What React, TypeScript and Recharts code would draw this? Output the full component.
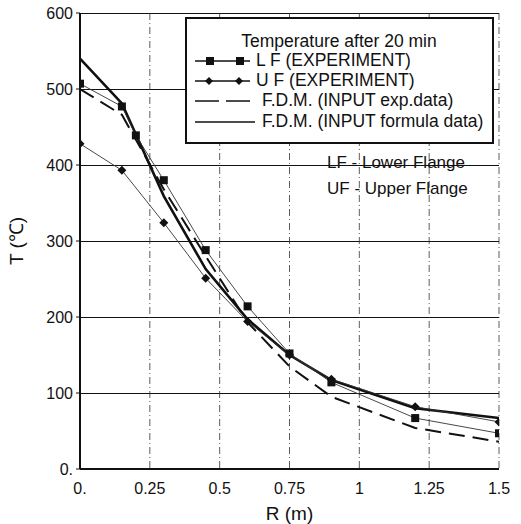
import React from "react"
import { CartesianGrid, Line, LineChart, XAxis, YAxis } from "recharts"

// axis ticks and labels
const xTicks = [0, 0.25, 0.5, 0.75, 1, 1.25, 1.5]
const xTickLabels = ["0.", "0.25", "0.5", "0.75", "1", "1.25", "1.5"]
const yTicks = [0, 100, 200, 300, 400, 500, 600]
const yTickLabels = ["0.", "100", "200", "300", "400", "500", "600"]

// L F (EXPERIMENT)
const lfR = [0, 0.15, 0.2, 0.3, 0.45, 0.6, 0.75, 0.9, 1.2, 1.5]
const lfT = [507, 477, 439, 380, 288, 214, 152, 114, 67, 47]
// U F (EXPERIMENT)
const ufR = [0, 0.15, 0.3, 0.45, 0.6, 0.75, 0.9, 1.2, 1.5]
const ufT = [428, 393, 324, 251, 194, 150, 118, 82, 62]
// F.D.M. curves
const fdmR = [0, 0.15, 0.3, 0.45, 0.6, 0.75, 0.9, 1.2, 1.5]
const fdmExpT = [500, 466, 368, 280, 193, 135, 95, 54, 36]
const fdmFormulaT = [540, 481, 359, 263, 197, 150, 117, 80, 67]

const legendTitle = "Temperature after 20 min"
const legendNames = [
  "L F (EXPERIMENT)",
  "U F (EXPERIMENT)",
  "F.D.M. (INPUT exp.data)",
  "F.D.M. (INPUT formula data)",
]
const notes = ["LF - Lower Flange", "UF - Upper Flange"]

const toRows = (xs: number[], ys: number[]) => xs.map((r, i) => ({ r, t: ys[i] }))

const FONT = "'Liberation Sans', Arial, sans-serif"
const INK = "#111"

const SquareDot = (props: any) => {
  const { cx, cy } = props
  if (cx == null || cy == null) return null
  return <rect x={cx - 4} y={cy - 4} width={8} height={8} fill={INK} />
}

const DiamondDot = (props: any) => {
  const { cx, cy } = props
  if (cx == null || cy == null) return null
  return <polygon points={`${cx},${cy - 4.5} ${cx + 4.5},${cy} ${cx},${cy + 4.5} ${cx - 4.5},${cy}`} fill={INK} />
}

function LegendBox() {
  const rowY = [44, 64, 84, 105]
  const textX = [71, 71, 77, 77]
  return (
    <svg
      width={309}
      height={127}
      style={{ position: "absolute", left: 185, top: 17, fontFamily: FONT }}
    >
      <rect x={1} y={1} width={307} height={125} fill="#fff" stroke={INK} strokeWidth={2} />
      <text x={154} y={25} textAnchor="middle" dominantBaseline="middle" fontSize={17.5} fill={INK}>
        {legendTitle}
      </text>
      {/* L F */}
      <line x1={10} x2={65} y1={rowY[0]} y2={rowY[0]} stroke={INK} strokeWidth={1.3} />
      <rect x={21} y={rowY[0] - 4} width={8} height={8} fill={INK} />
      <rect x={51} y={rowY[0] - 4} width={8} height={8} fill={INK} />
      {/* U F */}
      <line x1={10} x2={65} y1={rowY[1]} y2={rowY[1]} stroke={INK} strokeWidth={1.3} />
      <polygon points={`24,${rowY[1] - 4} 28,${rowY[1]} 24,${rowY[1] + 4} 20,${rowY[1]}`} fill={INK} />
      <polygon points={`54,${rowY[1] - 4} 58,${rowY[1]} 54,${rowY[1] + 4} 50,${rowY[1]}`} fill={INK} />
      {/* dashed */}
      <line x1={10} x2={65} y1={rowY[2]} y2={rowY[2]} stroke={INK} strokeWidth={1.6} strokeDasharray="24 7" />
      {/* solid */}
      <line x1={10} x2={70} y1={rowY[3]} y2={rowY[3]} stroke={INK} strokeWidth={1.6} />
      {legendNames.map((name, i) => (
        <text key={name} x={textX[i]} y={rowY[i]} dominantBaseline="middle" fontSize={17.5} fill={INK}>
          {name}
        </text>
      ))}
    </svg>
  )
}

export default function App() {
  return (
    <div style={{ position: "absolute", left: 0, top: 0, width: 521, height: 524, background: "#fff" }}>
      <LineChart width={521} height={524} margin={{ top: 13, right: 22, bottom: 0, left: 0 }}>
        <CartesianGrid
          vertical={false}
          stroke={INK}
          strokeWidth={1}
          horizontalValues={yTicks}
          shapeRendering="crispEdges"
        />
        <CartesianGrid
          horizontal={false}
          stroke="#333"
          strokeWidth={0.8}
          strokeDasharray="7 3 1 3"
          verticalValues={xTicks}
        />
        <XAxis
          type="number"
          dataKey="r"
          domain={[0, 1.5]}
          ticks={xTicks}
          tickFormatter={(v: number) => xTickLabels[xTicks.indexOf(v)] ?? String(v)}
          tickLine={false}
          tickMargin={8}
          axisLine={{ stroke: INK, strokeWidth: 2 }}
          tick={{ fill: INK, fontSize: 16, fontFamily: FONT }}
          height={55}
          label={{ value: "R (m)", position: "insideBottom", offset: 4, fill: INK, fontSize: 19, fontFamily: FONT }}
          allowDataOverflow
        />
        <YAxis
          type="number"
          domain={[0, 600]}
          ticks={yTicks}
          tickFormatter={(v: number) => yTickLabels[yTicks.indexOf(v)] ?? String(v)}
          tickSize={4}
          tickMargin={3}
          tickLine={{ stroke: INK }}
          axisLine={{ stroke: INK, strokeWidth: 2 }}
          tick={{ fill: INK, fontSize: 16, fontFamily: FONT }}
          width={80}
          label={{
            value: "T (℃)",
            angle: -90,
            position: "insideLeft",
            offset: 16,
            fill: INK,
            fontSize: 19,
            fontFamily: FONT,
            style: { textAnchor: "middle" },
          }}
        />
        <Line
          data={toRows(fdmR, fdmExpT)}
          dataKey="t"
          type="linear"
          stroke={INK}
          strokeWidth={2}
          strokeDasharray="16 8"
          dot={false}
          isAnimationActive={false}
        />
        <Line
          data={toRows(fdmR, fdmFormulaT)}
          dataKey="t"
          type="linear"
          stroke={INK}
          strokeWidth={2.6}
          dot={false}
          isAnimationActive={false}
        />
        <Line
          data={toRows(ufR, ufT)}
          dataKey="t"
          type="linear"
          stroke="#333"
          strokeWidth={0.9}
          dot={<DiamondDot />}
          isAnimationActive={false}
        />
        <Line
          data={toRows(lfR, lfT)}
          dataKey="t"
          type="linear"
          stroke="#333"
          strokeWidth={0.9}
          dot={<SquareDot />}
          isAnimationActive={false}
        />
      </LineChart>
      <LegendBox />
      <svg
        width={521}
        height={524}
        style={{ position: "absolute", left: 0, top: 0, pointerEvents: "none", fontFamily: FONT }}
      >
        <text x={327} y={168} fontSize={17} fill={INK}>
          {notes[0]}
        </text>
        <text x={327} y={194} fontSize={17} fill={INK}>
          {notes[1]}
        </text>
      </svg>
    </div>
  )
}
